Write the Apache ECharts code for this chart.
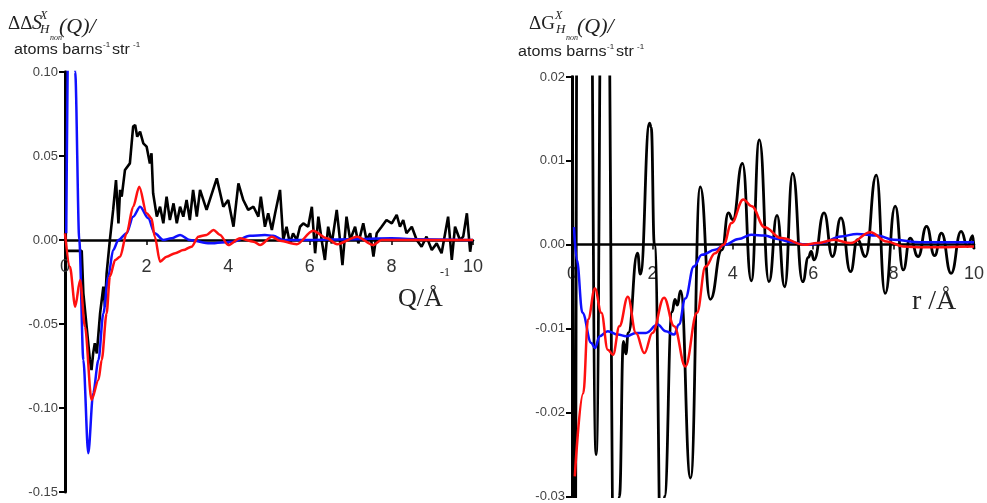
<!DOCTYPE html>
<html>
<head>
<meta charset="UTF-8">
<title>ΔΔS(Q) and ΔG(r)</title>
<script src="https://cdn.jsdelivr.net/npm/echarts@6/dist/echarts.min.js"></script>
<style>
  html, body { margin: 0; background: #fff; }
  #chart { width: 987px; height: 503px; }
</style>
</head>
<body>
<div id="chart"></div>
<script>
// left panel: ΔΔS(Q), Q in 1/Å
var sBlack = [[0, 0.2], [0.02, -0.0065], [0.41, -0.0064], [0.45, -0.0317], [0.53, -0.0516], [0.61, -0.0714],
  [0.65, -0.0774], [0.69, -0.0675], [0.73, -0.0615], [0.78, -0.0675], [0.82, -0.0556], [0.86, -0.0437],
  [0.90, -0.0357], [0.94, -0.0278], [0.98, -0.0397], [1.02, -0.0198], [1.10, 0], [1.18, 0.0179],
  [1.25, 0.0357], [1.31, 0.0099], [1.35, 0.0298], [1.39, 0.0258], [1.47, 0.0417], [1.59, 0.0456],
  [1.67, 0.0675], [1.72, 0.0685], [1.77, 0.0615], [1.84, 0.0645], [1.92, 0.0575], [2.0, 0.0556],
  [2.08, 0.0456], [2.12, 0.0516], [2.16, 0.0278], [2.25, 0.0139], [2.33, 0.0198], [2.41, 0.0099],
  [2.49, 0.0258], [2.57, 0.0119], [2.66, 0.0218], [2.74, 0.0099], [2.82, 0.0198], [2.90, 0.0139],
  [2.98, 0.0238], [3.06, 0.0119], [3.14, 0.0298], [3.23, 0.0139], [3.31, 0.0298], [3.47, 0.0179],
  [3.72, 0.0367], [3.88, 0.0198], [4.00, 0.0238], [4.13, 0.0079], [4.25, 0.0337], [4.37, 0.0238],
  [4.49, 0.0179], [4.62, 0.0198], [4.74, 0.0139], [4.80, 0.0258], [4.90, 0.0079], [4.98, 0.0159],
  [5.07, 0.006], [5.15, 0.0159], [5.27, 0.0298], [5.35, 0], [5.43, 0.0079], [5.51, -0.002],
  [5.59, 0.004], [5.68, 0], [5.76, 0.0079], [5.84, 0.0099], [5.96, 0.0079], [6.05, 0.0198],
  [6.13, -0.0079], [6.21, 0.0139], [6.29, 0], [6.37, -0.0119], [6.45, 0.0079], [6.54, -0.002],
  [6.66, 0.0179], [6.74, 0], [6.80, -0.0149], [6.90, 0.0139], [6.99, 0], [7.11, 0.0079],
  [7.19, -0.002], [7.31, 0.0099], [7.39, 0], [7.48, 0.004], [7.56, -0.0099], [7.64, 0.004],
  [7.76, 0.0079], [7.88, 0.0119], [8.01, 0.0099], [8.13, 0.0149], [8.21, 0.0079], [8.29, 0.0119],
  [8.37, 0.004], [8.50, 0.0079], [8.62, 0], [8.74, -0.004], [8.86, 0.002], [8.99, -0.006],
  [9.11, -0.002], [9.23, -0.0079], [9.39, 0.0139], [9.48, -0.0119], [9.56, 0.0079], [9.68, 0],
  [9.76, 0.002], [9.85, 0.0159], [9.93, -0.007], [9.97, 0]];
var sBlue = [[0.03, 0.004], [0.12, 0.2], [0.19, 0.2], [0.25, 0.1], [0.35, 0], [0.45, -0.0714],
  [0.57, -0.127], [0.69, -0.0913], [0.82, -0.0714], [0.94, -0.0437], [1.06, -0.0218], [1.18, -0.006],
  [1.31, 0], [1.51, 0.004], [1.67, 0.0139], [1.84, 0.0198], [2.04, 0.0129], [2.2, 0.004],
  [2.41, 0], [2.61, 0.001], [2.82, 0.003], [3.06, 0], [3.55, -0.002], [4.13, -0.001],
  [4.53, 0.0025], [4.9, 0.003], [5.1, 0.0025], [5.35, 0], [6.0, 0], [7.0, 0.0005],
  [8.0, 0.001], [8.6, 0.0005], [10, 0]];
var sRed = [[0, 0.004], [0.12, -0.0159], [0.25, -0.0397], [0.37, -0.0238], [0.49, -0.0516],
  [0.65, -0.0952], [0.82, -0.0833], [0.90, -0.0714], [1.02, -0.0437], [1.10, -0.0218],
  [1.23, -0.0119], [1.35, -0.0099], [1.51, 0.004], [1.67, 0.0198], [1.82, 0.0317], [2.0, 0.0159],
  [2.12, 0.0129], [2.2, 0.002], [2.33, -0.0129], [2.49, -0.0099], [2.70, -0.0079], [2.90, -0.006],
  [3.1, -0.004], [3.27, 0.002], [3.47, 0.003], [3.64, 0.006], [3.8, 0.003], [4.0, -0.003],
  [4.29, 0.001], [4.62, -0.001], [4.78, -0.003], [5.07, 0.002], [5.27, -0.0005], [5.68, -0.0025],
  [6.08, 0.0055], [6.42, 0.001], [6.67, -0.0025], [7.16, 0.002], [7.55, -0.003], [7.76, 0],
  [10, 0]];

// right panel: ΔG(r), r in Å
var gBlack = [[0, 0.045], [0.07, -0.045], [0.14, 0.045], [0.44, 0.045], [0.6, -0.025], [0.76, 0.045],
  [0.86, 0.045], [1.07, -0.045], [1.18, -0.03], [1.28, -0.0115], [1.34, -0.013], [1.4, -0.0105],
  [1.63, -0.001], [1.7, -0.0035], [1.93, 0.0145], [1.97, 0.014], [2.05, 0.0], [2.25, -0.045],
  [2.3, -0.03], [2.49, -0.008], [2.56, -0.0065], [2.62, -0.0072], [2.7, -0.0055], [2.95, -0.0278],
  [3.19, 0.0069], [3.44, -0.0065], [3.73, -0.0006], [3.89, 0.0038], [4.0, 0.003], [4.24, 0.0097],
  [4.46, -0.0043], [4.66, 0.0125], [4.9, -0.0044], [5.1, 0.0035], [5.29, -0.005], [5.49, 0.0085],
  [5.74, -0.0044], [5.88, -0.0015], [5.95, -0.0008], [6.02, -0.0018], [6.27, 0.0038], [6.48, -0.0014],
  [6.69, 0.0032], [6.93, -0.0032], [7.1, 0.0006], [7.3, -0.0014], [7.57, 0.0083], [7.79, -0.0058],
  [8.04, 0.0046], [8.24, -0.003], [8.41, 0.0008], [8.61, -0.0014], [8.82, 0.0022], [9.02, -0.0013],
  [9.19, 0.0014], [9.43, -0.0034], [9.68, 0.0016], [9.84, -0.0002], [9.97, 0.0011], [10.0, -0.0005]];
var gBlue = [[0.05, 0.0021], [0.12, -0.0018], [0.26, -0.0081], [0.48, -0.0117], [0.57, -0.0123],
  [0.69, -0.0109], [0.89, -0.0103], [1.14, -0.0107], [1.35, -0.0109], [1.59, -0.0105], [1.84, -0.0105],
  [2.13, -0.0095], [2.33, -0.0103], [2.54, -0.0107], [2.66, -0.0095], [2.82, -0.0064], [3.03, -0.0026],
  [3.23, -0.0012], [3.56, -0.0006], [3.81, 0], [4.14, 0.0007], [4.46, 0.0012], [4.79, 0.0011],
  [5.12, 0.0007], [5.37, 0.0004], [5.86, 0], [6.19, 0.0002], [6.69, 0.001], [7.09, 0.0013],
  [7.59, 0.0011], [8.0, 0.0006], [8.65, 0.0003], [10, 0.0003]];
var gRed = [[0.07, -0.0276], [0.28, -0.0177], [0.4, -0.0089], [0.57, -0.0052], [0.73, -0.0081],
  [0.89, -0.0125], [1.02, -0.0131], [1.18, -0.0097], [1.39, -0.0062], [1.59, -0.0105], [1.8, -0.0129],
  [2.0, -0.0105], [2.29, -0.0063], [2.54, -0.0097], [2.82, -0.0145], [3.11, -0.0081], [3.32, -0.0026],
  [3.56, -0.001], [3.77, 0], [3.97, 0.0026], [4.26, 0.0054], [4.47, 0.0046], [4.79, 0.0021],
  [5.2, 0.0008], [5.78, 0], [6.1, 0.0002], [6.52, 0.0006], [6.93, 0.0002], [7.42, 0.0015],
  [7.83, 0.0004], [8.24, -0.0002], [8.74, -0.0003], [10, -0.0002]];

var xTicks = { min: 0, max: 10, interval: 2 };
var sTicks = { min: -0.15, max: 0.10, interval: 0.05 };
var gTicks = { min: -0.03, max: 0.02, interval: 0.01 };

var SERIF = '"Liberation Serif", "DejaVu Serif", serif';
var SANS = '"Liberation Sans", Arial, sans-serif';
var PLOT_H = 420;

// x axis sits on y = 0: shift it up from the grid bottom by the zero's distance
function xAxisOf(gi, t, margin) {
  return {
    type: 'value', gridIndex: gi, min: xTicks.min, max: xTicks.max, interval: xTicks.interval,
    position: 'bottom', offset: -PLOT_H * (0 - t.min) / (t.max - t.min),
    axisLine: { onZero: false, lineStyle: { color: '#000', width: 2.5 } },
    axisTick: { show: true, length: 5, lineStyle: { color: '#000', width: 1.5 } },
    axisLabel: { color: '#333', fontSize: 18, fontFamily: SANS, margin: margin },
    splitLine: { show: false }
  };
}
function yAxisOf(gi, t) {
  return {
    type: 'value', gridIndex: gi, min: t.min, max: t.max, interval: t.interval,
    axisLine: { show: true, onZero: false, lineStyle: { color: '#000', width: 3 } },
    axisTick: { show: true, length: 6, lineStyle: { color: '#000', width: 2 } },
    axisLabel: {
      color: '#444', fontSize: 13, fontFamily: SANS, margin: 7,
      formatter: function (v) { return (Math.abs(v) < 1e-9 ? 0 : v).toFixed(2); }
    },
    splitLine: { show: false }
  };
}
function line(data, color, width, xi, smooth) {
  return {
    type: 'line', data: data, xAxisIndex: xi, yAxisIndex: xi, showSymbol: false, symbol: 'none',
    smooth: smooth, smoothMonotone: 'x', clip: true, animation: false,
    lineStyle: { color: color, width: width }
  };
}
// small helper for the pieces of the axis titles
function txt(s, x, y, size, italic, fam, sx) {
  return {
    type: 'text', x: x, y: y, scaleX: sx || 1,
    style: {
      text: s, fill: '#222', verticalAlign: 'middle',
      font: (italic ? 'italic ' : '') + size + 'px ' + (fam || SERIF)
    }
  };
}

var chart = echarts.init(document.getElementById('chart'));
chart.setOption({
  animation: false,
  backgroundColor: '#fff',
  grid: [
    { left: 65, top: 72, width: 408, height: PLOT_H },
    { left: 572, top: 77, width: 406, height: PLOT_H }
  ],
  xAxis: [xAxisOf(0, sTicks, 18), xAxisOf(1, gTicks, 21)],
  yAxis: [yAxisOf(0, sTicks), yAxisOf(1, gTicks)],
  series: [
    line(sBlack, '#000', 2.6, 0, false),
    line(sBlue, '#1010ff', 2.5, 0, 0.3),
    line(sRed, '#ff1010', 2.5, 0, 0.3),
    line(gBlack, '#000', 2.8, 1, 0.5),
    line(gBlue, '#1010ff', 2.5, 1, 0.4),
    line(gRed, '#ff1010', 2.5, 1, 0.4)
  ],
  graphic: [
    // left title
    txt('ΔΔ', 8, 24, 19, false),
    txt('S', 32, 24, 20, true),
    txt('X', 40, 16, 12, true),
    txt('H', 40, 30, 13, true),
    txt('non', 50, 38, 8, true),
    txt('(Q)/', 59, 27, 22, true),
    txt('atoms barns', 14, 50, 14, false, SANS, 1.15),
    txt('-1', 103, 45, 8, false, SANS),
    txt('str', 112, 50, 14, false, SANS, 1.15),
    txt('-1', 133, 45, 8, false, SANS),
    // right title
    txt('ΔG', 529, 24, 19, false),
    txt('X', 555, 16, 12, true),
    txt('H', 556, 30, 13, true),
    txt('non', 566, 38, 8, true),
    txt('(Q)/', 577, 27, 22, true),
    txt('atoms barns', 518, 52, 14, false, SANS, 1.15),
    txt('-1', 607, 47, 8, false, SANS),
    txt('str', 616, 52, 14, false, SANS, 1.15),
    txt('-1', 637, 47, 8, false, SANS),
    // axis names
    txt('Q/Å', 398, 299, 26, false),
    txt('-1', 440, 273, 12, false),
    txt('r /Å', 912, 302, 28, false)
  ]
});
</script>
</body>
</html>
